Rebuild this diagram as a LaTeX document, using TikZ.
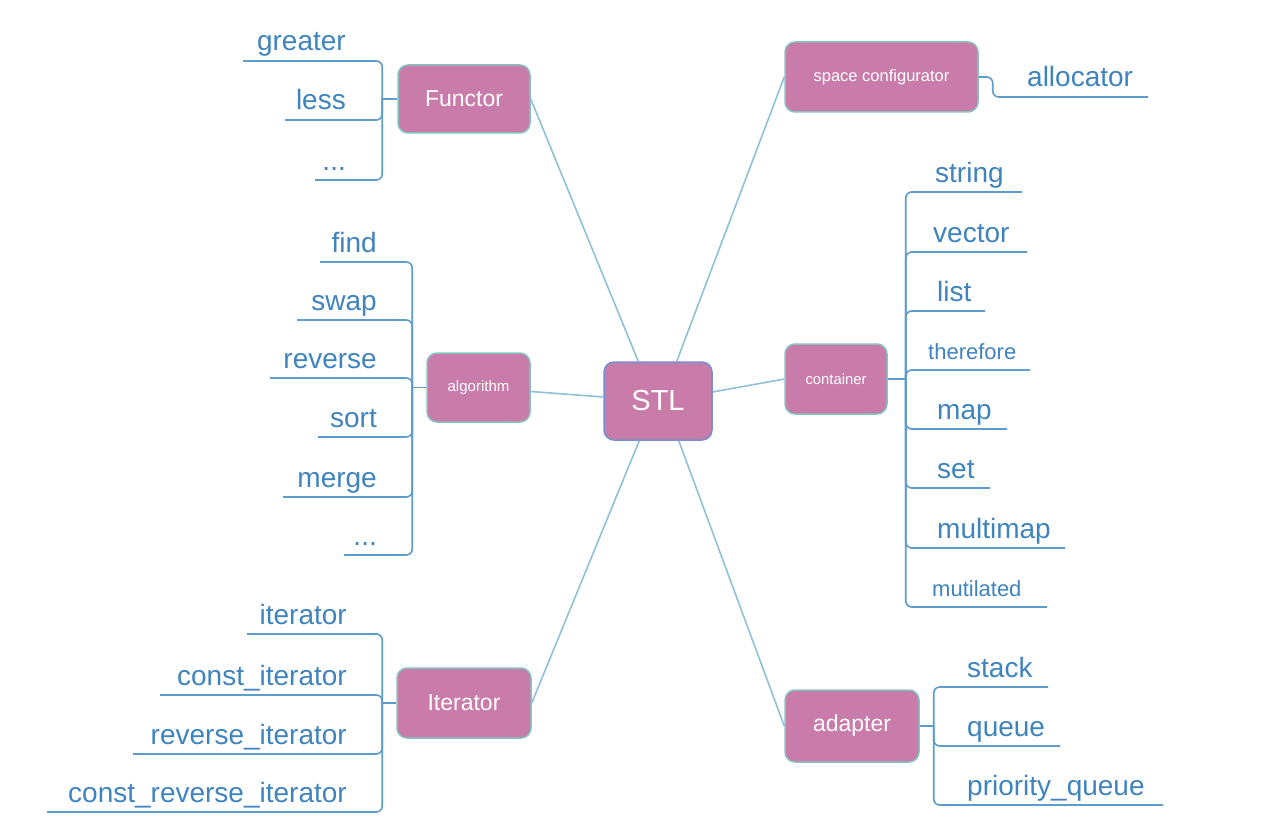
\documentclass[tikz,border=0pt]{standalone}
\usepackage{fontspec}
\setmainfont{Liberation Sans}
\usetikzlibrary{calc}
\definecolor{boxfill}{HTML}{C97CAA}
\definecolor{boxedge}{HTML}{86C3C0}
\definecolor{stledge}{HTML}{7393CC}
\definecolor{leafblue}{HTML}{3F84BE}
\definecolor{linkblue}{HTML}{8EC1DA}
\definecolor{leafline}{HTML}{5E9CCB}
\def\myellip{...}
\begin{document}
\begin{tikzpicture}[x=1pt,y=-1pt,
  topic/.style={draw=boxedge, line width=1.5pt, fill=boxfill, rounded corners=10pt, text=white, inner sep=0pt},
  link/.style={draw=linkblue, line width=1.6pt},
  branch/.style={draw=leafline, line width=1.6pt, rounded corners=6pt},
  leafL/.style={anchor=base east, text=leafblue, font=\fontsize{28}{30}\selectfont, inner sep=0pt},
  leafR/.style={anchor=base west, text=leafblue, font=\fontsize{28}{30}\selectfont, inner sep=0pt},
  leafS/.style={anchor=base west, text=leafblue, font=\fontsize{22}{24}\selectfont, inner sep=0pt},
]
\useasboundingbox[fill=white] (0,0) rectangle (1282,824);

% topic boxes
\node[topic, draw=stledge, minimum width=108pt, minimum height=78pt, font=\fontsize{29}{31}\selectfont] (stl) at (658,401) {STL};
\node[topic, minimum width=132pt, minimum height=68pt, font=\fontsize{23}{25}\selectfont] (fun) at (464,99) {Functor};
\node[topic, minimum width=193pt, minimum height=70pt, font=\fontsize{16.5}{18}\selectfont] (sc) at (881.5,77) {space configurator};
\node[topic, minimum width=103pt, minimum height=69pt, font=\fontsize{15}{16}\selectfont] (alg) at (478.5,387.5) {algorithm};
\node[topic, minimum width=102pt, minimum height=70pt, font=\fontsize{14.8}{16}\selectfont] (cont) at (836,379) {container};
\node[topic, minimum width=134pt, minimum height=70pt, font=\fontsize{23}{25}\selectfont] (it) at (464,703) {Iterator};
\node[topic, minimum width=134pt, minimum height=72pt, font=\fontsize{23}{25}\selectfont] (ad) at (852,726) {adapter};

% links to the centre
\draw[link] (fun.east) -- ($(stl.north west)+(35,0)$);
\draw[link] (sc.west) -- ($(stl.north east)+(-36,0)$);
\draw[link] ($(alg.east)+(0,4)$) -- ($(stl.west)+(0,-4)$);
\draw[link] ($(stl.east)+(0,-9)$) -- (cont.west);
\draw[link] (it.east) -- ($(stl.south west)+(36,0)$);
\draw[link] (ad.west) -- ($(stl.south east)+(-34,0)$);

% Functor leaves
\coordinate (fj) at ($(fun.west)+(-15,0)$);
\draw[branch] (fj) -- (fun.west);
\foreach \nm/\txt/\xs/\yy in {f1/greater/243/61, f2/less/285/120, f3/\myellip/315/180}{
  \node[leafL] (\nm) at (346,\yy-10) {\txt};
  \coordinate (\nm s) at (\xs,\yy);
  \draw[branch] (\nm s) -- (\nm s -| fj) -- (fj);
}

% algorithm leaves
\coordinate (aj) at ($(alg.west)+(-14,0)$);
\draw[branch] (aj) -- (alg.west);
\foreach \nm/\txt/\xs/\yy in {a1/find/320/262, a2/swap/297/320, a3/reverse/270/378, a4/sort/318/437, a5/merge/283/497, a6/\myellip/344/555}{
  \node[leafL] (\nm) at (377,\yy-10) {\txt};
  \coordinate (\nm s) at (\xs,\yy);
  \draw[branch] (\nm s) -- (\nm s -| aj) -- (aj);
}

% Iterator leaves
\coordinate (ij) at ($(it.west)+(-14,0)$);
\draw[branch] (ij) -- (it.west);
\foreach \nm/\txt/\xs/\yy in {i1/iterator/247/634, i2/const\_iterator/160/695, i3/reverse\_iterator/133/754, i4/const\_reverse\_iterator/47/812}{
  \node[leafL] (\nm) at (347,\yy-10) {\txt};
  \coordinate (\nm s) at (\xs,\yy);
  \draw[branch] (\nm s) -- (\nm s -| ij) -- (ij);
}

% space configurator leaf
\node[leafR] (alloc) at (1027,87) {allocator};
\coordinate (alE) at (1148,97);
\draw[branch] (sc.east) -- ++(14,0) |- (alE);

% container leaves
\coordinate (cj) at ($(cont.east)+(18,0)$);
\draw[branch] (cont.east) -- (cj);
\foreach \nm/\txt/\xl/\xe/\yy in {c1/string/935/1022/192, c2/vector/933/1027/252, c3/list/937/985/311, c5/map/937/1007/429, c6/set/937/990/488, c7/multimap/937/1065/548}{
  \node[leafR] (\nm) at (\xl,\yy-10) {\txt};
  \coordinate (\nm e) at (\xe,\yy);
  \draw[branch] (cj) -- (cj |- \nm e) -- (\nm e);
}
\foreach \nm/\txt/\xl/\xe/\yy in {c4/therefore/928/1030/370, c8/mutilated/932/1047/607}{
  \node[leafS] (\nm) at (\xl,\yy-11) {\txt};
  \coordinate (\nm e) at (\xe,\yy);
  \draw[branch] (cj) -- (cj |- \nm e) -- (\nm e);
}

% adapter leaves
\coordinate (dj) at ($(ad.east)+(14,0)$);
\draw[branch] (ad.east) -- (dj);
\foreach \nm/\txt/\xe/\yy in {d1/stack/1048/687, d2/queue/1060/746, d3/priority\_queue/1163/805}{
  \node[leafR] (\nm) at (967,\yy-10) {\txt};
  \coordinate (\nm e) at (\xe,\yy);
  \draw[branch] (dj) -- (dj |- \nm e) -- (\nm e);
}
\end{tikzpicture}
\end{document}
